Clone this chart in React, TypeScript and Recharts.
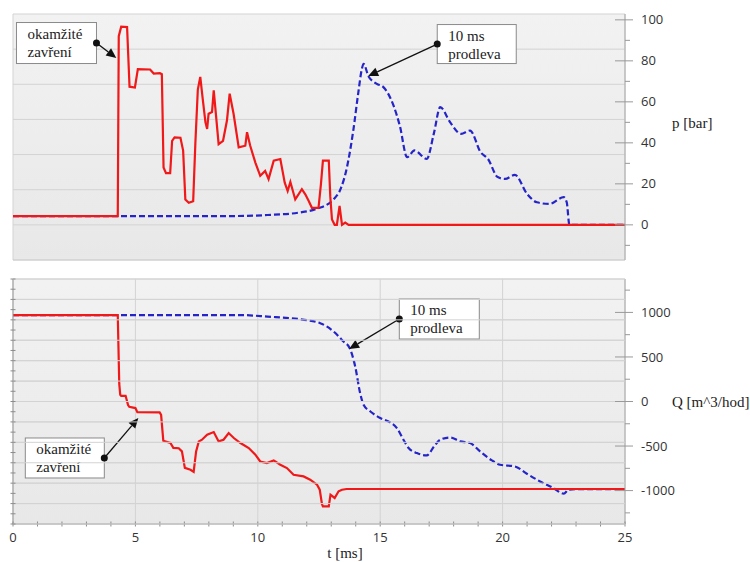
import React from 'react';
import { LineChart, Line, XAxis, YAxis, CartesianGrid, ReferenceLine } from 'recharts';

// p [bar] – okamžité zavření (červená)
const pCloseT = [0, 4.28, 4.32, 4.42, 4.66, 4.76, 4.98, 5.1, 5.6, 5.75, 6.0, 6.08, 6.15, 6.25, 6.42, 6.5, 6.6, 6.84, 6.95, 7.04, 7.18, 7.36, 7.45, 7.55, 7.65, 7.75, 7.86, 7.93, 7.99, 8.13, 8.2, 8.4, 8.58, 8.74, 8.85, 9.01, 9.22, 9.49, 9.56, 9.69, 9.9, 10.1, 10.3, 10.44, 10.65, 10.92, 11.1, 11.22, 11.33, 11.53, 11.8, 11.94, 12.08, 12.21, 12.48, 12.58, 12.66, 12.9, 12.96, 13.03, 13.14, 13.23, 13.34, 13.44, 13.57, 13.71, 25];
const pCloseV = [4.3, 4.3, 92, 96.7, 96.5, 67.4, 67, 76, 75.8, 73.8, 74, 73.5, 28, 25.2, 25.2, 41, 42.7, 42.5, 36.2, 12.4, 10.8, 11.5, 40, 66, 72.2, 61.5, 50.1, 46.8, 54.2, 55, 65.6, 39.4, 41, 50.9, 64, 54.2, 37.8, 38.6, 45.2, 38.6, 30.4, 23.9, 26.3, 22.3, 31.3, 32.1, 20.6, 16.5, 20.9, 12.4, 17.4, 14.9, 11.6, 8.3, 8.3, 20, 31.3, 31.3, 14, 2.6, 0, 0, 9.2, 0, 1.1, 0, 0];

// p [bar] – 10 ms prodleva (modrá)
const pDelayT = [0, 9, 10.4, 11.7, 12.4, 13.1, 13.4, 13.64, 13.9, 14.1, 14.25, 14.32, 14.52, 14.86, 15.13, 15.55, 15.8, 16.1, 16.4, 16.9, 17.2, 17.45, 17.86, 18.3, 18.67, 19.1, 19.4, 19.8, 20.1, 20.5, 21.0, 21.4, 21.9, 22.5, 22.62, 22.73, 25];
const pDelayV = [4.3, 4.3, 4.8, 6.0, 7.8, 12.5, 18, 28, 46, 64, 76, 78.5, 72.5, 68.8, 67.2, 58, 48.4, 33, 36.3, 32.2, 45, 57.4, 50, 44.4, 46, 35.5, 32.2, 23.3, 22.4, 24.4, 15.1, 11, 10.2, 13.5, 11, 0, 0];

// Q [m^3/hod] – okamžité zavření (červená)
const qCloseT = [0, 4.28, 4.34, 4.38, 4.42, 4.6, 4.7, 4.75, 5.0, 5.08, 5.99, 6.05, 6.14, 6.43, 6.55, 6.77, 6.9, 7.02, 7.25, 7.38, 7.48, 7.59, 7.72, 7.93, 8.2, 8.4, 8.6, 8.81, 9.02, 9.29, 9.63, 9.9, 10.1, 10.37, 10.65, 10.92, 11.19, 11.46, 11.87, 12.14, 12.42, 12.53, 12.62, 12.66, 12.9, 12.97, 13.14, 13.3, 13.44, 13.63, 25];
const qCloseV = [970, 970, 200, 75, 64, 64, -40, -60, -74, -120, -123, -150, -440, -466, -520, -525, -560, -745, -766, -790, -560, -448, -429, -373, -343, -448, -429, -354, -410, -466, -522, -597, -673, -691, -661, -710, -747, -822, -841, -878, -934, -990, -1150, -1177, -1177, -1046, -1083, -1008, -990, -982, -982];

// Q [m^3/hod] – 10 ms prodleva (modrá)
const qDelayT = [0, 9.3, 10.4, 11.7, 12.55, 13.1, 13.5, 13.75, 13.98, 14.18, 14.32, 14.6, 15.0, 15.41, 15.68, 15.95, 16.16, 16.5, 16.9, 17.2, 17.45, 17.86, 18.27, 18.67, 19.08, 19.56, 19.9, 20.5, 20.99, 21.53, 22.07, 22.5, 22.69, 23, 25];
const qDelayV = [970, 970, 953, 924, 879, 785, 673, 600, 392, 94, -37, -112, -186, -235, -298, -429, -522, -579, -605, -504, -429, -404, -448, -466, -561, -661, -710, -729, -811, -897, -971, -1035, -990, -985, -985];

const tTicks = Array.from({ length: 26 }, (_, i) => i);
const tLabels = [0, 5, 10, 15, 20, 25];
const pTicks = [-10, 0, 10, 20, 30, 40, 50, 60, 70, 80, 90, 100];
const pLabels = [0, 20, 40, 60, 80, 100];
const qTicks = [-1250, -1000, -750, -500, -250, 0, 250, 500, 750, 1000, 1250];
const qLabels = [-1000, -500, 0, 500, 1000];

// pomocné osy pro mřížku (7 a 12 dílků)
const gridTopTicks = [0, 1, 2, 3, 4, 5, 6, 7];
const minorTopTicks = Array.from({ length: 29 }, (_, i) => i * 0.25);
const gridBotTicks = [0, 1, 2, 3, 4, 5, 6, 7, 8, 9, 10, 11, 12];
const minorBotTicks = Array.from({ length: 25 }, (_, i) => i * 0.5);

const zip = (t: number[], v: number[]) => t.map((x, i) => ({ t: x, v: v[i] }));
const pClose = zip(pCloseT, pCloseV);
const pDelay = zip(pDelayT, pDelayV);
const qClose = zip(qCloseT, qCloseV);
const qDelay = zip(qDelayT, qDelayV);

const RED = '#f01818';
const BLUE = '#2424c8';
const GRID = '#d3d3d3';
const SANS = '"Open Sans", "DejaVu Sans", sans-serif';
const SERIF = '"Liberation Serif", "DejaVu Serif", serif';

const RightTick = (labels: number[]) => (props: any) => {
  const { x, y, payload } = props;
  const major = labels.includes(payload.value);
  return (
    <g>
      <line x1={x - (major ? 10 : 0)} x2={x + (major ? 8 : 5)} y1={y} y2={y} stroke="#999" />
      {major && (
        <text x={x + 16} y={y} dy="0.35em" fontFamily={SANS} fontSize={13} fill="#333">
          {payload.value}
        </text>
      )}
    </g>
  );
};

// levé vedlejší značky; u celých dílků i čára mřížky přes plochu grafu
const LeftTick = (plotWidth: number, every: number) => (props: any) => {
  const { x, y, payload } = props;
  const isGrid = Math.abs(payload.value / every - Math.round(payload.value / every)) < 1e-6;
  return (
    <g>
      {plotWidth > 0 && isGrid && <line x1={x} x2={x + plotWidth} y1={y} y2={y} stroke={GRID} />}
      <line x1={x - 2.5} x2={x + 2.5} y1={y} y2={y} stroke="#8c8c8c" />
    </g>
  );
};

const BottomTick = (props: any) => {
  const { x, y, payload } = props;
  const major = tLabels.includes(payload.value);
  return (
    <g>
      <line x1={x} x2={x} y1={y - 2.5} y2={y + 2.5} stroke="#8c8c8c" />
      {major && (
        <text x={x} y={y + 13} dy="0.35em" textAnchor="middle" fontFamily={SANS} fontSize={13} fill="#333">
          {payload.value}
        </text>
      )}
    </g>
  );
};

const callout = (lines: string[], side: 'left' | 'right', w: number, h: number) => (props: any) => {
  const { x1, y1, x2, y2 } = props;
  const ang = Math.atan2(y2 - y1, x2 - x1);
  const L = 10;
  const W = 4.5;
  const bx = x2 - L * Math.cos(ang);
  const by = y2 - L * Math.sin(ang);
  const head = `${x2},${y2} ${bx - W * Math.sin(ang)},${by + W * Math.cos(ang)} ${bx + W * Math.sin(ang)},${by - W * Math.cos(ang)}`;
  const boxX = side === 'left' ? x1 - w : x1;
  const boxY = y1 - h / 2;
  return (
    <g>
      <rect x={boxX} y={boxY} width={w} height={h} fill="#fff" stroke="#8a8a8a" />
      {lines.map((s, i) => (
        <text key={i} x={boxX + 11} y={boxY + 16 + i * 18} fontFamily={SERIF} fontSize={15} fill="#222">
          {s}
        </text>
      ))}
      <line x1={x1} y1={y1} x2={bx} y2={by} stroke="#111" strokeWidth={1.3} />
      <polygon points={head} fill="#111" />
      <circle cx={x1} cy={y1} r={3.5} fill="#111" />
    </g>
  );
};

const App: React.FC = () => {
  return (
    <div style={{ position: 'absolute', left: 0, top: 0, width: 750, height: 562, background: '#fff' }}>
      <div style={{ position: 'absolute', left: 0, top: 0 }}>
        <LineChart width={750} height={270} margin={{ top: 14, right: 0, bottom: 0, left: 0 }}>
          <defs>
            <linearGradient id="bgTop" x1="0" y1="0" x2="0" y2="1">
              <stop offset="0%" stopColor="#f2f2f2" />
              <stop offset="100%" stopColor="#e8e8e8" />
            </linearGradient>
          </defs>
          <CartesianGrid yAxisId="grid" stroke={GRID} fill="url(#bgTop)" />
          <XAxis
            dataKey="t"
            type="number"
            domain={[0, 25]}
            allowDataOverflow
            ticks={tLabels}
            interval={0}
            tick={false}
            tickLine={false}
            height={10}
            axisLine={{ stroke: '#cfcfcf' }}
          />
          <YAxis yAxisId="grid" type="number" domain={[0, 7]} allowDataOverflow ticks={gridTopTicks} interval={0} hide />
          <YAxis
            yAxisId="minor"
            orientation="left"
            type="number"
            domain={[0, 7]}
            allowDataOverflow
            ticks={minorTopTicks}
            interval={0}
            width={13}
            tickLine={false}
            tickSize={0}
            tickMargin={0}
            tick={LeftTick(0, 1)}
            axisLine={{ stroke: '#999' }}
          />
          <YAxis
            yAxisId="p"
            orientation="right"
            type="number"
            domain={[-120 / 7, 720 / 7]}
            allowDataOverflow
            ticks={pTicks}
            interval={0}
            width={125}
            tickLine={false}
            tickSize={0}
            tickMargin={0}
            tick={RightTick(pLabels)}
            axisLine={{ stroke: '#aaa' }}
            label={{ value: 'p [bar]', position: 'insideLeft', offset: 47, dy: -14, style: { fontFamily: SERIF, fontSize: 15, fill: '#222' } }}
          />
          <Line yAxisId="p" data={pDelay} dataKey="v" type="monotone" stroke={BLUE} strokeWidth={2.2} strokeDasharray="6 3" dot={false} isAnimationActive={false} />
          <Line yAxisId="p" data={pClose} dataKey="v" type="linear" stroke={RED} strokeWidth={2.2} dot={false} isAnimationActive={false} />
          <ReferenceLine
            yAxisId="p"
            segment={[{ x: 3.41, y: 88.7 }, { x: 4.22, y: 81.4 }]}
            shape={callout(['okamžité', 'zavření'], 'left', 80, 41)}
          />
          <ReferenceLine
            yAxisId="p"
            segment={[{ x: 17.33, y: 88.2 }, { x: 14.51, y: 72.6 }]}
            shape={callout(['10 ms', 'prodleva'], 'right', 79, 39)}
          />
        </LineChart>
      </div>
      <div style={{ position: 'absolute', left: 0, top: 270 }}>
        <LineChart width={750} height={292} margin={{ top: 9, right: 0, bottom: 0, left: 0 }}>
          <defs>
            <linearGradient id="bgBot" x1="0" y1="0" x2="0" y2="1">
              <stop offset="0%" stopColor="#f2f2f2" />
              <stop offset="100%" stopColor="#e8e8e8" />
            </linearGradient>
          </defs>
          <CartesianGrid
            xAxisId="gx"
            yAxisId="minor"
            horizontalValues={gridBotTicks}
            stroke={GRID}
            fill="url(#bgBot)"
          />
          <XAxis
            dataKey="t"
            type="number"
            domain={[0, 25]}
            allowDataOverflow
            ticks={tTicks}
            interval={0}
            height={38}
            tickLine={false}
            tickSize={0}
            tickMargin={0}
            tick={BottomTick}
            axisLine={{ stroke: '#999' }}
            label={{ value: 't [ms]', position: 'insideBottom', offset: 4, dx: 26, style: { fontFamily: SERIF, fontSize: 15, fill: '#222' } }}
          />
          <XAxis xAxisId="gx" dataKey="t" type="number" domain={[0, 25]} allowDataOverflow ticks={tLabels} interval={0} hide />
          <YAxis
            yAxisId="minor"
            orientation="left"
            type="number"
            domain={[0, 12]}
            allowDataOverflow
            ticks={minorBotTicks}
            interval={0}
            width={13}
            tickLine={false}
            tickSize={0}
            tickMargin={0}
            tick={LeftTick(612, 1)}
            axisLine={{ stroke: '#999' }}
          />
          <YAxis
            yAxisId="q"
            orientation="right"
            type="number"
            domain={[-1375, 1375]}
            allowDataOverflow
            ticks={qTicks}
            interval={0}
            width={125}
            tickLine={false}
            tickSize={0}
            tickMargin={0}
            tick={RightTick(qLabels)}
            axisLine={{ stroke: '#aaa' }}
            label={{ value: 'Q [m^3/hod]', position: 'insideLeft', offset: 47, style: { fontFamily: SERIF, fontSize: 15, fill: '#222' } }}
          />
          <Line yAxisId="q" data={qDelay} dataKey="v" type="monotone" stroke={BLUE} strokeWidth={2.2} strokeDasharray="6 3" dot={false} isAnimationActive={false} />
          <Line yAxisId="q" data={qClose} dataKey="v" type="linear" stroke={RED} strokeWidth={2.2} dot={false} isAnimationActive={false} />
          <ReferenceLine
            yAxisId="q"
            segment={[{ x: 15.78, y: 926 }, { x: 13.73, y: 589 }]}
            shape={callout(['10 ms', 'prodleva'], 'right', 80, 40)}
          />
          <ReferenceLine
            yAxisId="q"
            segment={[{ x: 3.73, y: -634 }, { x: 5.12, y: -185 }]}
            shape={callout(['okamžité', 'zavření'], 'left', 79, 40)}
          />
        </LineChart>
      </div>
    </div>
  );
};

export default App;
